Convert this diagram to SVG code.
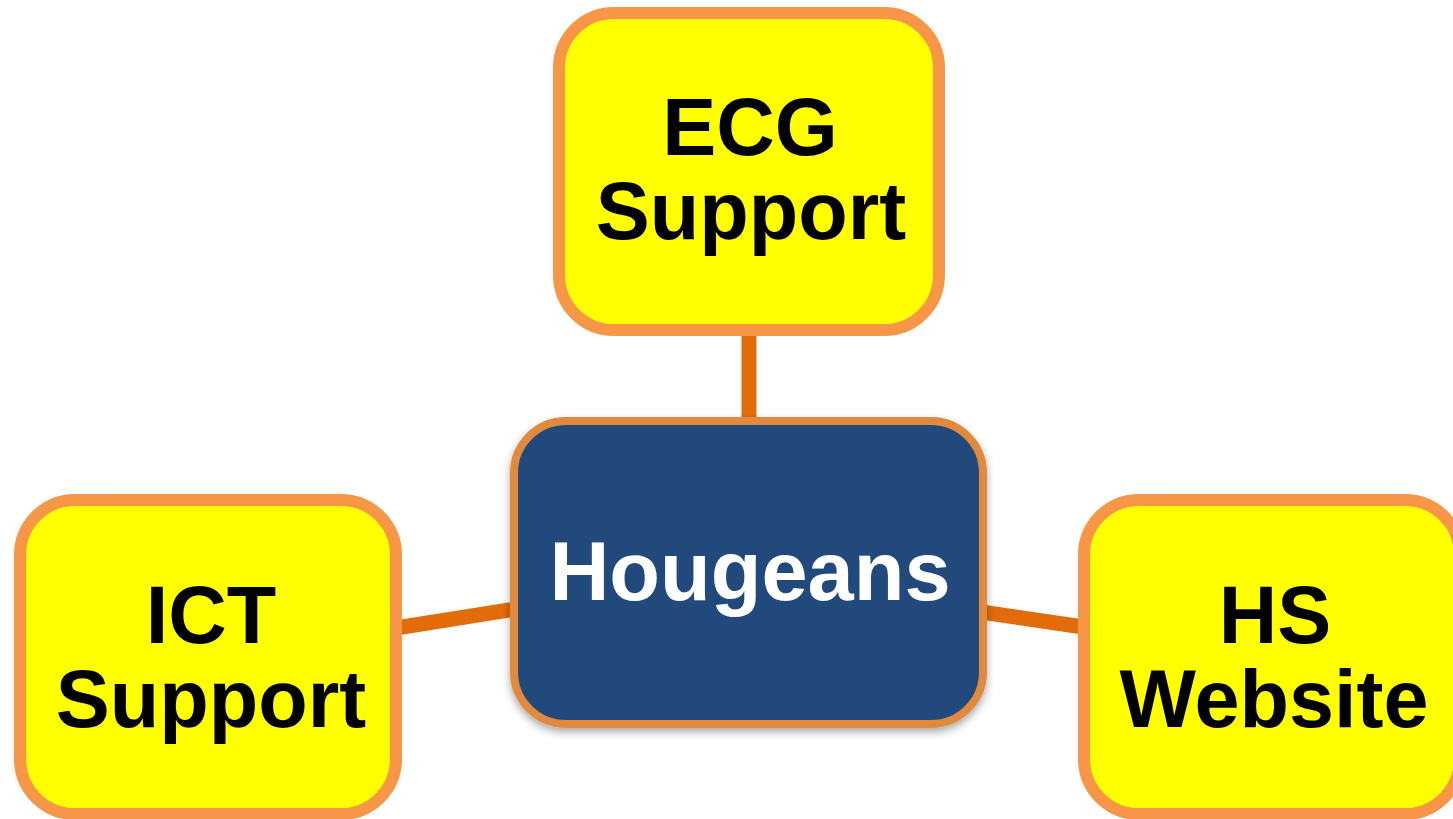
<svg xmlns="http://www.w3.org/2000/svg" width="1453" height="819" viewBox="0 0 1453 819">
  <defs>
    <filter id="shadow" x="-10%" y="-10%" width="120%" height="125%">
      <feDropShadow dx="0" dy="4" stdDeviation="4" flood-color="#000" flood-opacity="0.35"/>
    </filter>
  </defs>
  <style>
    .leaf { fill: #ffff00; stroke: #f79646; stroke-width: 12; }
    .hub { fill: #214a7c; stroke: #e08a3e; stroke-width: 8; }
    .conn { stroke: #e36c0a; stroke-width: 15; fill: none; }
    .lt { font-family: "Liberation Sans", Arial, sans-serif; font-weight: bold; font-size: 81px; fill: #000; text-anchor: middle; }
    .ht { font-family: "Liberation Sans", Arial, sans-serif; font-weight: bold; font-size: 83px; fill: #fff; text-anchor: middle; }
  </style>
  <rect width="1453" height="819" fill="#ffffff"/>
  <g id="connectors">
    <line class="conn" x1="749" y1="330" x2="749" y2="424"/>
    <line class="conn" x1="396" y1="628" x2="516" y2="609"/>
    <line class="conn" x1="981" y1="612" x2="1090" y2="628"/>
  </g>
  <g id="node-ecg">
    <rect class="leaf" x="559" y="13" width="380" height="317" rx="55"/>
    <text class="lt" x="750" y="155">ECG</text>
    <text class="lt" x="751" y="239">Support</text>
  </g>
  <g id="node-hougeans">
    <rect class="hub" x="514" y="421" width="469" height="303" rx="52" filter="url(#shadow)"/>
    <text class="ht" x="750" y="600">Hougeans</text>
  </g>
  <g id="node-ict">
    <rect class="leaf" x="20" y="500" width="376" height="314" rx="55"/>
    <text class="lt" x="211" y="643">ICT</text>
    <text class="lt" x="211" y="727">Support</text>
  </g>
  <g id="node-hs">
    <rect class="leaf" x="1084" y="500" width="376" height="314" rx="55"/>
    <text class="lt" x="1275" y="643">HS</text>
    <text class="lt" x="1274" y="727">Website</text>
  </g>
</svg>
